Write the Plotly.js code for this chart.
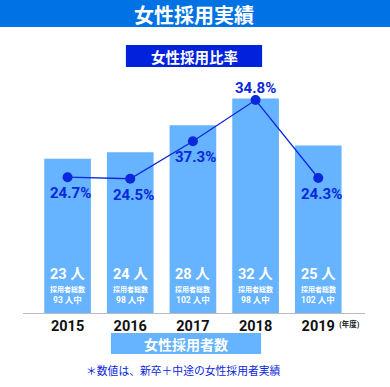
<!DOCTYPE html>
<html>
<head>
<meta charset="utf-8">
<script src="https://cdn.plot.ly/plotly-3.0.1.min.js"></script>
<style>
  html, body { margin: 0; padding: 0; background: #ffffff; }
  #chart { width: 390px; height: 387px; }
</style>
</head>
<body>
<div id="chart"></div>
<script>
// ---- data ----
const years = ['2015', '2016', '2017', '2018', '2019'];
const womenHired = [23, 24, 28, 32, 25];          // 女性採用者数 (人)
const totalHired = [93, 98, 102, 98, 102];         // 採用者総数 (人中)
const rateLabels = [24.7, 24.5, 37.3, 34.8, 24.3]; // 女性採用比率 labels (%)
const rateDrawn  = [24.7, 24.5, 29.4, 34.8, 24.6]; // marker levels as drawn in the picture (%)
const rateLabelAbove = [false, false, false, true, false];

const mainTitle = '女性採用実績';
const rateTitle = '女性採用比率';
const countTitle = '女性採用者数';
const footnote = '＊数値は、新卒＋中途の女性採用者実績';
const yearUnit = '(年度)';

// ---- styles ----
const BAR = '#66b3ff';
const DEEP = '#0a28dc';
const HEAD = '#0072e3';
const FONT = 'Roboto, "Noto Sans CJK JP", sans-serif';
const JFONT = '"Noto Sans CJK JP", sans-serif';

const idx = years.map((_, i) => i);

const barTrace = {
  type: 'bar',
  x: idx,
  y: womenHired,
  marker: { color: BAR },
  width: 0.744,
  hoverinfo: 'skip',
  showlegend: false
};

const lineTrace = {
  type: 'scatter',
  mode: 'lines+markers',
  x: idx,
  y: rateDrawn,
  yaxis: 'y2',
  line: { color: DEEP, width: 1.3 },
  marker: { color: DEEP, size: 10 },
  cliponaxis: false,
  hoverinfo: 'skip',
  showlegend: false
};

// plot area: top 80px, baseline 313px
const PT = 80, PB = 313.3, PH = PB - PT;
const py = px => (PB - px) / PH; // pixel -> paper y

const annotations = [];
idx.forEach(i => {
  annotations.push({
    x: i, xref: 'x', y: rateDrawn[i], yref: 'y2',
    text: rateLabels[i].toFixed(1) + '%', showarrow: false,
    font: { family: FONT, size: 15, color: DEEP, weight: 700 },
    xanchor: 'center', yanchor: 'middle',
    xshift: rateLabelAbove[i] ? 0 : 3,
    yshift: rateLabelAbove[i] ? 12 : -16
  });
  annotations.push({
    x: i, xref: 'x', y: py(275), yref: 'paper',
    text: womenHired[i] + ' 人', showarrow: false,
    font: { family: FONT, size: 14.5, color: '#ffffff', weight: 700 },
    xanchor: 'center', yanchor: 'middle'
  });
  annotations.push({
    x: i, xref: 'x', y: py(289), yref: 'paper',
    text: '採用者総数', showarrow: false,
    font: { family: JFONT, size: 7, color: '#ffffff', weight: 700 },
    xanchor: 'center', yanchor: 'middle'
  });
  annotations.push({
    x: i, xref: 'x', y: py(300), yref: 'paper',
    text: totalHired[i] + ' 人中', showarrow: false,
    font: { family: FONT, size: 8.5, color: '#ffffff', weight: 700 },
    xanchor: 'center', yanchor: 'middle'
  });
});

annotations.push(
  { x: 0.5, xref: 'paper', y: py(14), yref: 'paper', text: mainTitle, showarrow: false,
    font: { family: JFONT, size: 20, color: '#ffffff', weight: 700 }, xanchor: 'center', yanchor: 'middle' },
  { x: (194 - 22.7) / 342.3, xref: 'paper', y: py(56), yref: 'paper', text: rateTitle, showarrow: false,
    font: { family: JFONT, size: 14.5, color: '#ffffff', weight: 700 }, xanchor: 'center', yanchor: 'middle' },
  { x: (186 - 22.7) / 342.3, xref: 'paper', y: py(344), yref: 'paper', text: countTitle, showarrow: false,
    font: { family: JFONT, size: 14, color: '#ffffff', weight: 700 }, xanchor: 'center', yanchor: 'middle' },
  { x: (183 - 22.7) / 342.3, xref: 'paper', y: py(370), yref: 'paper', text: footnote, showarrow: false,
    font: { family: JFONT, size: 10.8, color: DEEP }, xanchor: 'center', yanchor: 'middle' },
  { x: (337 - 22.7) / 342.3, xref: 'paper', y: py(323.5), yref: 'paper', text: yearUnit, showarrow: false,
    font: { family: JFONT, size: 7.5, color: '#222222', weight: 700 }, xanchor: 'left', yanchor: 'middle' }
);

const shapes = [
  { type: 'rect', xref: 'paper', yref: 'paper', x0: -1, x1: 2, y0: py(27), y1: py(-5),
    fillcolor: HEAD, line: { width: 0 }, layer: 'below' },
  { type: 'rect', xref: 'paper', yref: 'paper',
    x0: (125.7 - 22.7) / 342.3, x1: (262 - 22.7) / 342.3, y0: py(67), y1: py(45),
    fillcolor: '#0022dd', line: { width: 0 } },
  { type: 'rect', xref: 'paper', yref: 'paper',
    x0: (110.7 - 22.7) / 342.3, x1: (261 - 22.7) / 342.3, y0: py(354.3), y1: py(333.3),
    fillcolor: BAR, line: { width: 0 } }
];

const layout = {
  width: 390, height: 387,
  margin: { l: 22.7, r: 25, t: PT, b: 387 - PB, pad: 0 },
  paper_bgcolor: '#ffffff',
  plot_bgcolor: 'rgba(0,0,0,0)',
  xaxis: {
    range: [-0.711, 4.746],
    tickmode: 'array', tickvals: idx, ticktext: years,
    showgrid: false, zeroline: false,
    showline: true, linecolor: '#bbbbbb', linewidth: 1,
    ticks: '', ticklen: 0,
    tickfont: { family: FONT, size: 14.5, color: '#111111', weight: 700 },
    fixedrange: true
  },
  yaxis: {
    range: [0, PH / 6.71],
    visible: false, showgrid: false, zeroline: false, fixedrange: true
  },
  yaxis2: {
    overlaying: 'y', side: 'right',
    range: [(366.3 - PB) / 7.65, (366.3 - PT) / 7.65],
    visible: false, showgrid: false, zeroline: false, fixedrange: true
  },
  annotations: annotations,
  shapes: shapes,
  showlegend: false
};

Plotly.newPlot('chart', [barTrace, lineTrace], layout, { displayModeBar: false, staticPlot: true });
</script>
</body>
</html>
